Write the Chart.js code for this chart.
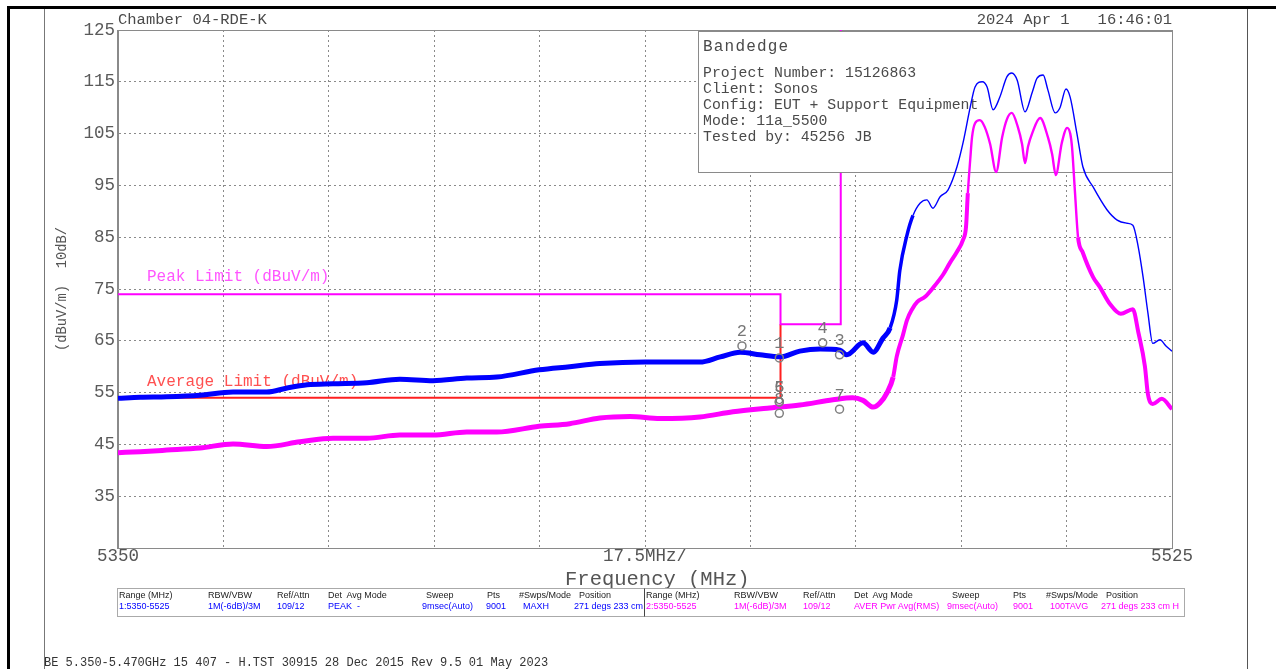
<!DOCTYPE html>
<html>
<head>
<meta charset="utf-8">
<title>Bandedge</title>
<script src="https://cdn.jsdelivr.net/npm/chart.js@4.4.1/dist/chart.umd.min.js"></script>
<style>
  html, body { margin: 0; padding: 0; background: #fff; }
  body { width: 1276px; height: 669px; position: relative; overflow: hidden; font-family: 'Liberation Mono', 'DejaVu Sans Mono', monospace; }
  #chart { position: absolute; left: 0; top: 0; }
  .ln { position: absolute; }
  .txt { position: absolute; white-space: pre; color: #4a4a4a; }
  .blk { position: absolute; top: 588px; height: 27px; overflow: hidden; font-family: 'Liberation Sans', Arial, sans-serif; font-size: 9px; }
  .blk span { position: absolute; white-space: pre; line-height: 10px; }
  .hd { top: 1px; color: #222; }
  .v1 { top: 12px; color: #0000ff; }
  .v2 { top: 12px; color: #ff00ff; }
</style>
</head>
<body>
<!-- page frame -->
<div class="ln" style="left:7px;top:6px;width:1269px;height:3px;background:#000"></div>
<div class="ln" style="left:7px;top:6px;width:3px;height:663px;background:#000"></div>
<div class="ln" style="left:44px;top:9px;width:1px;height:660px;background:#777"></div>
<div class="ln" style="left:1247px;top:9px;width:1px;height:660px;background:#555"></div>

<canvas id="chart" width="1276" height="669"></canvas>

<div class="txt" style="left:118px;top:12px;font-size:15.5px;line-height:16px">Chamber 04-RDE-K</div>
<div class="txt" style="right:104px;top:12px;font-size:15.5px;line-height:16px">2024 Apr 1   16:46:01</div>

<!-- settings table -->
<div class="blk" style="left:117px;width:527px;border:1px solid #aaa;border-right:none">
  <span class="hd" style="left:1px">Range (MHz)</span>
  <span class="hd" style="left:90px">RBW/VBW</span>
  <span class="hd" style="left:159px">Ref/Attn</span>
  <span class="hd" style="left:210px">Det  Avg Mode</span>
  <span class="hd" style="left:308px">Sweep</span>
  <span class="hd" style="left:369px">Pts</span>
  <span class="hd" style="left:401px">#Swps/Mode</span>
  <span class="hd" style="left:461px">Position</span>
  <span class="v1" style="left:1px">1:5350-5525</span>
  <span class="v1" style="left:90px">1M(-6dB)/3M</span>
  <span class="v1" style="left:159px">109/12</span>
  <span class="v1" style="left:210px">PEAK  -</span>
  <span class="v1" style="left:304px">9msec(Auto)</span>
  <span class="v1" style="left:368px">9001</span>
  <span class="v1" style="left:405px">MAXH</span>
  <span class="v1" style="left:456px">271 degs 233 cm</span>
</div>
<div class="blk" style="left:644px;width:539px;border:1px solid #aaa;border-left:1px solid #444">
  <span class="hd" style="left:1px">Range (MHz)</span>
  <span class="hd" style="left:89px">RBW/VBW</span>
  <span class="hd" style="left:158px">Ref/Attn</span>
  <span class="hd" style="left:209px">Det  Avg Mode</span>
  <span class="hd" style="left:307px">Sweep</span>
  <span class="hd" style="left:368px">Pts</span>
  <span class="hd" style="left:401px">#Swps/Mode</span>
  <span class="hd" style="left:461px">Position</span>
  <span class="v2" style="left:1px">2:5350-5525</span>
  <span class="v2" style="left:89px">1M(-6dB)/3M</span>
  <span class="v2" style="left:158px">109/12</span>
  <span class="v2" style="left:209px">AVER Pwr Avg(RMS)</span>
  <span class="v2" style="left:302px">9msec(Auto)</span>
  <span class="v2" style="left:368px">9001</span>
  <span class="v2" style="left:405px">100TAVG</span>
  <span class="v2" style="left:456px">271 degs 233 cm H</span>
</div>

<div class="txt" style="left:44px;top:657px;font-size:12px;line-height:13px;color:#333">BE 5.350-5.470GHz 15 407 - H.TST 30915 28 Dec 2015 Rev 9.5 01 May 2023</div>

<script>
// ---- data (MHz / dBuV/m) ----
const peakFreq = [5350.0, 5353.7, 5358.1, 5363.6, 5369.1, 5374.7, 5378.1, 5381.4, 5385.7, 5391.3,
  5396.8, 5402.3, 5407.9, 5412.9, 5419.9, 5425.0, 5430.0, 5437.5, 5446.6, 5450.0,
  5453.3, 5456.6, 5459.9, 5463.2, 5466.6, 5469.9, 5471.0, 5473.7, 5475.4, 5477.0,
  5478.2, 5479.3, 5479.8, 5481.0, 5482.0, 5483.2, 5484.3, 5485.3, 5486.5, 5487.8,
  5489.3, 5490.3, 5491.5, 5492.3, 5493.5, 5494.3, 5495.3, 5496.4, 5497.6, 5498.4,
  5499.3, 5500.6, 5501.8, 5502.6, 5503.6, 5504.4, 5505.6, 5506.4, 5507.4, 5508.1,
  5509.2, 5510.2, 5511.9, 5514.2, 5515.9, 5517.5, 5518.5, 5519.4, 5520.2, 5521.0,
  5521.8, 5523.0, 5524.0, 5525.0];
const peakLevel = [53.9, 54.1, 54.2, 54.5, 55.1, 55.1, 55.9, 56.5, 56.7, 56.9,
  57.6, 57.3, 57.8, 58.0, 59.4, 60.0, 60.6, 60.9, 60.9, 61.9,
  62.8, 62.3, 61.9, 63.0, 63.4, 63.2, 62.3, 64.6, 62.8, 65.5,
  67.5, 72.9, 78.5, 85.4, 89.2, 91.6, 92.2, 90.6, 92.8, 94.1,
  98.6, 103.2, 110.1, 114.0, 115.0, 114.0, 109.6, 112.0, 116.0, 116.7,
  115.3, 109.2, 113.0, 115.7, 116.3, 113.4, 109.0, 110.0, 113.6, 112.0,
  105.1, 98.6, 94.7, 90.3, 88.3, 87.7, 87.3, 83.1, 77.3, 70.4,
  64.5, 65.2, 64.0, 63.0];

const avgFreq = [5350.0, 5353.7, 5358.1, 5363.6, 5369.1, 5374.7, 5380.2, 5385.7, 5391.3, 5396.8,
  5402.3, 5407.9, 5412.9, 5419.9, 5425.0, 5430.0, 5435.0, 5440.0, 5446.6, 5452.1,
  5457.8, 5463.2, 5468.7, 5472.0, 5473.7, 5475.4, 5476.5, 5477.7, 5478.7, 5479.3,
  5480.3, 5481.0, 5481.8, 5482.7, 5484.0, 5485.3, 5487.0, 5488.1, 5489.3, 5490.3,
  5490.8, 5491.1, 5491.5, 5491.8, 5492.3, 5493.1, 5493.9, 5494.8, 5495.8, 5496.8,
  5497.6, 5498.4, 5499.4, 5500.1, 5500.6, 5501.1, 5501.8, 5503.1, 5504.4, 5505.1,
  5505.7, 5506.7, 5507.6, 5508.1, 5508.4, 5508.9, 5509.4, 5510.2, 5511.9, 5513.0,
  5514.7, 5516.5, 5518.5, 5519.4, 5520.5, 5521.0, 5521.8, 5523.3, 5525.0];
const avgLevel = [43.4, 43.6, 43.9, 44.3, 45.1, 44.6, 45.5, 46.2, 46.2, 46.8,
  46.8, 47.4, 47.4, 48.5, 49.0, 50.1, 50.4, 50.0, 50.3, 51.3,
  52.0, 52.6, 53.6, 54.0, 53.5, 52.2, 53.0, 55.0, 58.0, 62.0,
  66.0, 69.0, 71.0, 72.5, 73.5, 75.2, 77.8, 80.0, 82.2, 84.5,
  87.0, 93.5, 100.0, 104.3, 107.0, 107.6, 106.3, 103.0, 97.6, 104.3,
  107.8, 109.0, 106.3, 103.0, 99.3, 102.5, 105.1, 108.0, 104.3, 101.0,
  97.0, 103.2, 106.1, 105.0, 102.4, 93.5, 85.0, 82.0, 77.3, 75.4,
  72.1, 70.2, 71.1, 66.7, 60.1, 54.7, 52.8, 53.8, 51.8];

const peakLimitFreq = [5350, 5460, 5460, 5470, 5470];
const peakLimitLevel = [74, 74, 68.2, 68.2, 125];
const avgLimitFreq = [5350, 5460, 5460];
const avgLimitLevel = [54, 54, 68.2];

const markerId = ['1', '2', '3', '4', '5', '6', '7', '8'];
const markerFreq = [5459.8, 5453.6, 5469.8, 5467.0, 5459.8, 5459.8, 5469.8, 5459.8];
const markerLevel = [61.7, 64.0, 62.3, 64.6, 53.2, 53.2, 51.8, 51.0];

const xTickLabels = ['5350', '', '', '', '', '17.5MHz/', '', '', '', '', '5525'];
const infoLines = ['Project Number: 15126863', 'Client: Sonos', 'Config: EUT + Support Equipment',
  'Mode: 11a_5500', 'Tested by: 45256 JB'];

const pts = (xs, ys) => xs.map((x, i) => ({ x: x, y: ys[i] }));

const MONO = "'Liberation Mono', 'DejaVu Sans Mono', monospace";
Chart.defaults.font.family = MONO;
Chart.defaults.color = '#5a5a5a';

// info box, limit labels, frame
const overlay = {
    id: 'overlay',
    beforeDatasetsDraw(chart) {
        const { ctx, chartArea: a } = chart;
        ctx.save();
        ctx.strokeStyle = '#8a8a8a';
        ctx.lineWidth = 1;
        ctx.strokeRect(a.left - 0.5, a.top + 0.5, a.right - a.left + 1, a.bottom - a.top);
        ctx.restore();
    },
    beforeDatasetDraw(chart, args) {
        if (args.index !== 2) return;
        const { ctx, chartArea: a, scales } = chart;
        ctx.save();
        // limit captions
        ctx.font = '16px ' + MONO;
        ctx.textBaseline = 'middle';
        ctx.fillStyle = '#ff55ff';
        ctx.fillText('Peak Limit (dBuV/m)', scales.x.getPixelForValue(peakLimitFreq[0]) + 29,
            scales.y.getPixelForValue(peakLimitLevel[0]) - 17);
        ctx.fillStyle = '#ff5050';
        ctx.fillText('Average Limit (dBuV/m)', scales.x.getPixelForValue(avgLimitFreq[0]) + 29,
            scales.y.getPixelForValue(avgLimitLevel[0]) - 16);
        // info box
        const bx = a.right - 474, by = a.top + 1, bw = 474, bh = 141;
        ctx.fillStyle = '#fff';
        ctx.fillRect(bx, by, bw, bh);
        ctx.strokeStyle = '#8a8a8a';
        ctx.strokeRect(bx + 0.5, by + 0.5, bw, bh);
        ctx.fillStyle = '#4a4a4a';
        ctx.font = '16px ' + MONO;
        ctx.letterSpacing = '1.2px';
        ctx.fillText('Bandedge', bx + 5, by + 16);
        ctx.letterSpacing = '0px';
        ctx.font = '14.8px ' + MONO;
        infoLines.forEach((t, i) => ctx.fillText(t, bx + 5, by + 42 + i * 16));
        ctx.restore();
    },
    afterDatasetsDraw(chart) {
        const { ctx, scales } = chart;
        ctx.save();
        ctx.font = '17px ' + MONO;
        ctx.fillStyle = '#777';
        ctx.textAlign = 'center';
        ctx.textBaseline = 'middle';
        markerId.forEach((m, i) => {
            ctx.fillText(m, scales.x.getPixelForValue(markerFreq[i]),
                scales.y.getPixelForValue(markerLevel[i]) - 14);
        });
        ctx.restore();
    }
};

// noisy parts of the traces are drawn wider
const peakWidth = x => x < 5478 ? 5 : (x < 5482 ? 3.5 : 1.4);
const avgWidth = x => x < 5478 ? 5 : (x < 5491 ? 4 : (x < 5509 ? 2.4 : 4));

new Chart(document.getElementById('chart'), {
    type: 'line',
    data: {
        datasets: [
            {
                label: 'markers',
                data: pts(markerFreq, markerLevel),
                showLine: false,
                pointStyle: 'circle',
                pointRadius: 4,
                pointBorderColor: '#808080',
                pointBackgroundColor: 'rgba(0,0,0,0)',
                pointBorderWidth: 1.5
            },
            {
                label: 'Average',
                data: pts(avgFreq, avgLevel),
                borderColor: '#ff00ff',
                borderWidth: 2,
                pointRadius: 0,
                cubicInterpolationMode: 'monotone',
                segment: { borderWidth: c => avgWidth(c.p0.parsed.x) }
            },
            {
                label: 'Peak',
                data: pts(peakFreq, peakLevel),
                borderColor: '#0000ff',
                borderWidth: 1.4,
                pointRadius: 0,
                cubicInterpolationMode: 'monotone',
                segment: { borderWidth: c => peakWidth(c.p0.parsed.x) }
            },
            {
                label: 'Peak Limit',
                data: pts(peakLimitFreq, peakLimitLevel),
                borderColor: '#ff00ff',
                borderWidth: 2,
                pointRadius: 0
            },
            {
                label: 'Average Limit',
                data: pts(avgLimitFreq, avgLimitLevel),
                borderColor: '#ff2020',
                borderWidth: 2,
                pointRadius: 0
            }
        ]
    },
    options: {
        responsive: false,
        animation: false,
        layout: { padding: { left: 0, top: 30, right: 104, bottom: 0 } },
        plugins: { legend: { display: false }, tooltip: { enabled: false } },
        scales: {
            x: {
                type: 'linear',
                min: 5350,
                max: 5525,
                afterFit: s => { s.height = 121; },
                ticks: {
                    stepSize: 17.5,
                    autoSkip: false,
                    maxRotation: 0,
                    padding: -2,
                    font: { size: 17.5 },
                    color: '#555',
                    callback: (v, i) => xTickLabels[i] || ''
                },
                grid: { color: '#8a8a8a', drawTicks: false },
                border: { color: '#8a8a8a', dash: [2, 3] },
                title: {
                    display: true,
                    text: '  Frequency (MHz)',
                    font: { size: 20.5 },
                    color: '#555',
                    padding: { top: 0, bottom: 77 }
                }
            },
            y: {
                min: 25,
                max: 125,
                afterFit: s => { s.width = 118; },
                ticks: {
                    stepSize: 10,
                    padding: 3,
                    font: { size: 17.5 },
                    color: '#5a5a5a',
                    callback: v => v === 25 ? '' : String(v)
                },
                grid: { color: '#8a8a8a', drawTicks: false },
                border: { color: '#8a8a8a', dash: [2, 3] },
                title: {
                    display: true,
                    text: '(dBuV/m)  10dB/',
                    font: { size: 13.8 },
                    color: '#555',
                    padding: { top: 54, bottom: 0 }
                }
            }
        }
    },
    plugins: [overlay]
});
</script>
</body>
</html>
